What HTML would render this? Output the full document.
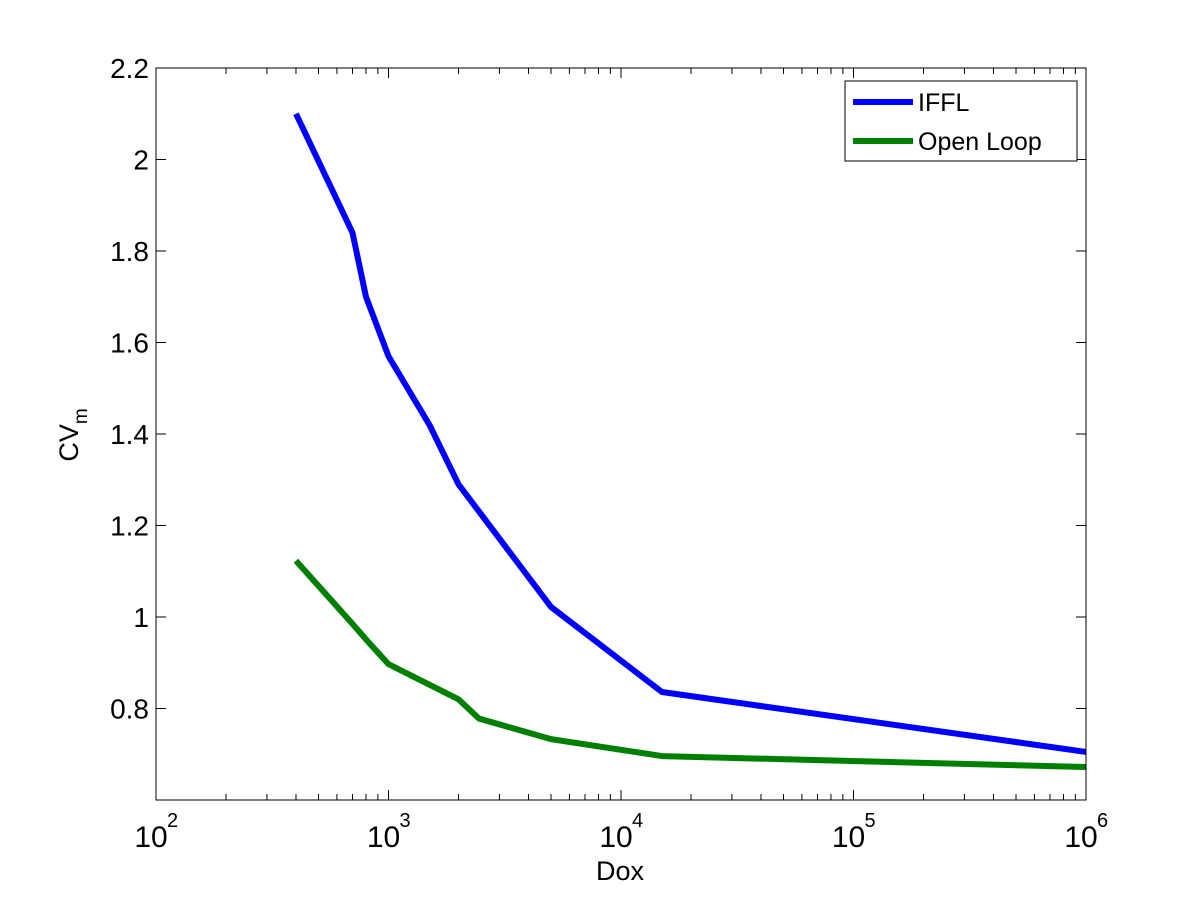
<!DOCTYPE html>
<html><head><meta charset="utf-8"><style>
body{margin:0;background:#fff;}
svg text{font-family:"Liberation Sans",Arial,sans-serif;fill:#000;}
</style></head><body>
<svg id="chart" width="1200" height="900">
<rect x="0" y="0" width="1200" height="900" fill="#fff"/>
<g id="marks"></g>
<g id="axes"></g>
</svg>
<script>
const xTicksExp = [2,3,4,5,6];
const yTicks = [0.8,1,1.2,1.4,1.6,1.8,2,2.2];
const yTickLabels = ["0.8","1","1.2","1.4","1.6","1.8","2","2.2"];
const ifflX = [400,700,800,1000,1500,2000,5000,15000,1000000];
const ifflY = [2.1,1.84,1.7,1.57,1.42,1.29,1.022,0.836,0.705];
const openX = [400,700,820,1000,2000,2450,5000,15000,1000000];
const openY = [1.123,0.985,0.945,0.897,0.82,0.778,0.733,0.696,0.672];
const seriesNames = ["IFFL","Open Loop"];

const L=156,R=1086,T=68,B=800;
const xMin=2,xMax=6,yMin=0.6,yMax=2.2;
const NS="http://www.w3.org/2000/svg";
function X(v){return L+(Math.log10(v)-xMin)/(xMax-xMin)*(R-L);}
function Y(v){return B-(v-yMin)/(yMax-yMin)*(B-T);}
function mk(tag,attrs,parent){const e=document.createElementNS(NS,tag);for(const k in attrs)e.setAttribute(k,attrs[k]);parent.appendChild(e);return e;}
const axes=document.getElementById('axes'),marks=document.getElementById('marks');

const box=mk('rect',{x:L,y:T,width:R-L,height:B-T,fill:'none',stroke:'#000','stroke-width':1},axes);



xTicksExp.forEach(e=>{
  const x=X(Math.pow(10,e));
  mk('line',{x1:x,y1:B,x2:x,y2:B-10,stroke:'#000'},axes);
  mk('line',{x1:x,y1:T,x2:x,y2:T+10,stroke:'#000'},axes);
  const t=mk('text',{x:x-5,y:B+47,'font-size':30,'text-anchor':'middle'},axes);
  
  
  t.textContent='10';
  const s=mk('text',{x:x+11,y:B+27,'font-size':20},axes);
  s.textContent=String(e);
  if(e<xMax){for(let m=2;m<=9;m++){const xm=X(m*Math.pow(10,e));
    mk('line',{x1:xm,y1:B,x2:xm,y2:B-6,stroke:'#000'},axes);
    mk('line',{x1:xm,y1:T,x2:xm,y2:T+6,stroke:'#000'},axes);}}
});
yTicks.forEach((v,i)=>{
  const y=Y(v);
  mk('line',{x1:L,y1:y,x2:L+10,y2:y,stroke:'#000'},axes);
  mk('line',{x1:R,y1:y,x2:R-10,y2:y,stroke:'#000'},axes);
  const t=mk('text',{x:L-7,y:y+10,'font-size':28,'text-anchor':'end'},axes);
  
  
  t.textContent=yTickLabels[i];
});
const xl=mk('text',{x:620,y:880,'font-size':27,'text-anchor':'middle'},axes);


xl.textContent='Dox';
const yl=mk('text',{transform:'translate(78,435) rotate(-90)','font-size':27,'text-anchor':'middle'},axes);


yl.innerHTML='CV<tspan font-size="19" dy="9">m</tspan>';

function line(xs,ys,color,name){
  const p=mk('polyline',{points:xs.map((x,i)=>X(x)+','+Y(ys[i])).join(' '),fill:'none',stroke:color,'stroke-width':6,'stroke-linejoin':'round'},marks);
  
  
}
line(ifflX,ifflY,'#0000ff','iffl-line');
line(openX,openY,'#007f00','open-loop-line');

const lg=mk('g',{},axes);


mk('rect',{x:845,y:81,width:232,height:80,fill:'#fff',stroke:'#000'},lg);
[['#0000ff',0],['#007f00',1]].forEach(([c,i])=>{
  const y=102+i*39;
  mk('line',{x1:853,y1:y,x2:913,y2:y,stroke:c,'stroke-width':6},lg);
  const t=mk('text',{x:918,y:y+9,'font-size':25},lg);
  
  
  t.textContent=seriesNames[i];
});
</script>
</body></html>
